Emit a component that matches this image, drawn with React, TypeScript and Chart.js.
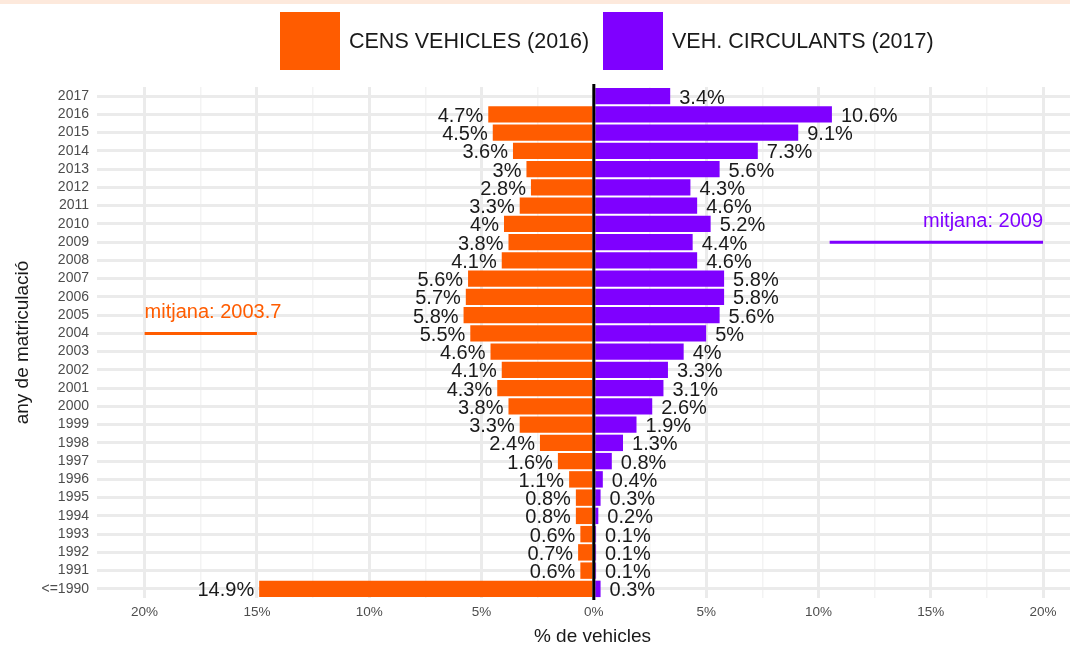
import React, { useEffect, useRef } from "react";
import { Chart, registerables } from "chart.js";

Chart.register(...registerables);

const categories = [
  "2017", "2016", "2015", "2014", "2013", "2012", "2011", "2010", "2009", "2008",
  "2007", "2006", "2005", "2004", "2003", "2002", "2001", "2000", "1999", "1998",
  "1997", "1996", "1995", "1994", "1993", "1992", "1991", "<=1990",
];

const censValues: (number | null)[] = [
  null, 4.7, 4.5, 3.6, 3.0, 2.8, 3.3, 4.0, 3.8, 4.1,
  5.6, 5.7, 5.8, 5.5, 4.6, 4.1, 4.3, 3.8, 3.3, 2.4,
  1.6, 1.1, 0.8, 0.8, 0.6, 0.7, 0.6, 14.9,
];

const circValues: (number | null)[] = [
  3.4, 10.6, 9.1, 7.3, 5.6, 4.3, 4.6, 5.2, 4.4, 4.6,
  5.8, 5.8, 5.6, 5.0, 4.0, 3.3, 3.1, 2.6, 1.9, 1.3,
  0.8, 0.4, 0.3, 0.2, 0.1, 0.1, 0.1, 0.3,
];

const xTicks = [-20, -17.5, -15, -12.5, -10, -7.5, -5, -2.5, 0, 2.5, 5, 7.5, 10, 12.5, 15, 17.5, 20];

const seriesNames = ["CENS VEHICLES (2016)", "VEH. CIRCULANTS (2017)"];
const meanCens = { label: "mitjana: 2003.7", category: "2004", from: -20, to: -15 };
const meanCirc = { label: "mitjana: 2009", category: "2009", from: 10.5, to: 20 };

const ORANGE = "#FF5C00";
const PURPLE = "#7F00FF";
const FONT = "'Liberation Sans', Arial, sans-serif";

const fmt = (v: number) => `${Math.round(v * 10) / 10}%`;

const overlay = {
  id: "overlay",
  beforeDraw(chart: any) {
    const ctx = chart.ctx;
    ctx.save();
    ctx.fillStyle = "#ffffff";
    ctx.fillRect(0, 0, chart.width, chart.height);
    ctx.fillStyle = "#FDE9DC";
    ctx.fillRect(0, 0, chart.width, 4);
    ctx.restore();
  },
  afterDatasetsDraw(chart: any) {
    const ctx = chart.ctx;
    const xs = chart.scales.x;
    const ys = chart.scales.y;
    const area = chart.chartArea;
    ctx.save();
    // data labels
    ctx.font = `20px ${FONT}`;
    ctx.fillStyle = "#1a1a1a";
    ctx.textBaseline = "middle";
    chart.data.datasets.forEach((ds: any, di: number) => {
      const meta = chart.getDatasetMeta(di);
      meta.data.forEach((el: any, i: number) => {
        const raw = di === 0 ? censValues[i] : circValues[i];
        if (raw === null || raw === undefined) return;
        if (di === 0) {
          ctx.textAlign = "right";
          ctx.fillText(fmt(raw), el.x - 5, el.y + 2);
        } else {
          ctx.textAlign = "left";
          ctx.fillText(fmt(raw), el.x + 9, el.y + 2);
        }
      });
    });
    // zero line
    const x0 = xs.getPixelForValue(0);
    ctx.strokeStyle = "#000000";
    ctx.lineWidth = 3;
    ctx.beginPath();
    ctx.moveTo(x0, area.top - 3);
    ctx.lineTo(x0, area.bottom + 2);
    ctx.stroke();
    // mean lines
    const drawMean = (m: any, color: string, align: "left" | "right") => {
      const y = ys.getPixelForValue(categories.indexOf(m.category));
      const xa = xs.getPixelForValue(m.from);
      const xb = xs.getPixelForValue(m.to);
      ctx.strokeStyle = color;
      ctx.lineWidth = 3;
      ctx.beginPath();
      ctx.moveTo(xa, y);
      ctx.lineTo(xb, y);
      ctx.stroke();
      ctx.fillStyle = color;
      ctx.font = `20px ${FONT}`;
      ctx.textAlign = align;
      ctx.textBaseline = "middle";
      ctx.fillText(m.label, align === "left" ? xa : xb, y - 21);
    };
    drawMean(meanCens, ORANGE, "left");
    drawMean(meanCirc, PURPLE, "right");
    ctx.restore();
  },
  afterDraw(chart: any) {
    const ctx = chart.ctx;
    const area = chart.chartArea;
    ctx.save();
    // legend
    ctx.fillStyle = ORANGE;
    ctx.fillRect(280, 12, 60, 58);
    ctx.fillStyle = PURPLE;
    ctx.fillRect(603, 12, 60, 58);
    ctx.fillStyle = "#1a1a1a";
    ctx.font = `21.5px ${FONT}`;
    ctx.textAlign = "left";
    ctx.textBaseline = "middle";
    ctx.fillText(seriesNames[0], 349, 42);
    ctx.fillText(seriesNames[1], 672, 42);
    // axis titles
    ctx.font = `19px ${FONT}`;
    ctx.textAlign = "center";
    ctx.fillText("% de vehicles", (area.left + 1042 + 143 - area.left) / 2 + 0, 637);
    ctx.translate(23, (area.top + area.bottom) / 2);
    ctx.rotate(-Math.PI / 2);
    ctx.fillText("any de matriculació", 0, 0);
    ctx.restore();
  },
};

export default function App() {
  const ref = useRef<HTMLCanvasElement | null>(null);

  useEffect(() => {
    if (!ref.current) return;
    const chart = new Chart(ref.current, {
      type: "bar",
      data: {
        labels: categories,
        datasets: [
          {
            label: seriesNames[0],
            data: censValues.map((v) => (v === null ? null : -v)),
            backgroundColor: ORANGE,
            barPercentage: 0.9,
            categoryPercentage: 1,
          },
          {
            label: seriesNames[1],
            data: circValues,
            backgroundColor: PURPLE,
            barPercentage: 0.9,
            categoryPercentage: 1,
          },
        ],
      },
      options: {
        indexAxis: "y",
        responsive: false,
        animation: false,
        devicePixelRatio: 1,
        layout: { padding: { top: 87, right: 0, left: 0, bottom: 0 } },
        plugins: {
          legend: { display: false },
          title: { display: false },
          tooltip: { enabled: false },
        },
        scales: {
          x: {
            type: "linear",
            stacked: true,
            min: -22.12,
            max: 21.2,
            afterBuildTicks: (scale: any) => {
              scale.ticks = xTicks.map((v) => ({ value: v }));
            },
            afterFit: (scale: any) => {
              scale.height = 50;
            },
            border: { display: false },
            grid: {
              drawTicks: false,
              color: (c: any) => (c.tick && c.tick.value % 5 === 0 ? "#EBEBEB" : "#F3F3F3"),
              lineWidth: (c: any) => (c.tick && c.tick.value % 5 === 0 ? 3 : 1.5),
            },
            ticks: {
              autoSkip: false,
              maxRotation: 0,
              padding: 6,
              color: "#4d4d4d",
              font: { family: FONT, size: 13.5 },
              callback: (v: any) => (Number(v) % 5 === 0 ? `${Math.abs(Number(v))}%` : ""),
            },
          },
          y: {
            type: "category",
            stacked: true,
            afterFit: (scale: any) => {
              scale.width = 97;
            },
            border: { display: false },
            grid: {
              offset: false,
              drawTicks: false,
              color: "#EBEBEB",
              lineWidth: 3,
            },
            ticks: {
              autoSkip: false,
              padding: 8,
              color: "#4d4d4d",
              font: { family: FONT, size: 14 },
            },
          },
        },
      },
      plugins: [overlay],
    } as any);
    return () => chart.destroy();
  }, []);

  return (
    <div style={{ position: "fixed", left: 0, top: 0, width: 1070, height: 648, background: "#fff" }}>
      <canvas ref={ref} width={1070} height={648} style={{ display: "block", width: 1070, height: 648 }} />
    </div>
  );
}
